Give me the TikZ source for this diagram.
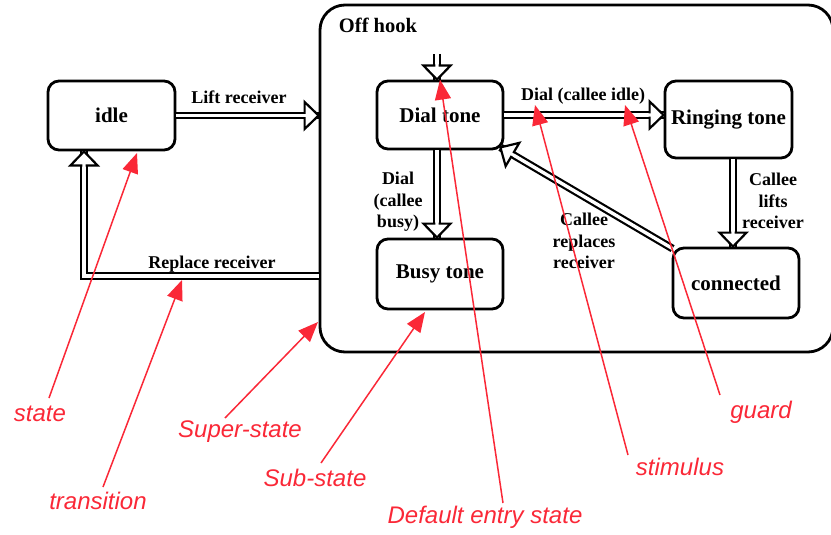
\documentclass[tikz,border=0pt]{standalone}
\usepackage{fontspec}
\setmainfont{Liberation Serif}
\newfontfamily\annfont{Liberation Sans}
\usetikzlibrary{decorations.markings,arrows.meta,calc}
\definecolor{annred}{RGB}{250,40,55}
\begin{document}
\begin{tikzpicture}[x=1pt,y=-1pt,
  st/.style={draw, line width=2.8pt, rounded corners=11pt, font=\fontsize{21}{23}\selectfont\bfseries, inner sep=0pt},
  lbl/.style={font=\fontsize{18}{21.5}\selectfont\bfseries, align=center, inner sep=0pt},
  dbl/.style={draw=white, line width=3.4pt,
    preaction={draw=black, line width=7.8pt},
    postaction={decorate, decoration={markings, mark=at position 1 with {
      \draw[draw=black, line width=2.2pt, fill=white, line join=miter, miter limit=10]
        (-14pt,1.7pt) -- (-14pt,13.5pt) -- (0pt,0pt) -- (-14pt,-13.5pt) -- (-14pt,-1.7pt);}}}},
  ann/.style={font=\fontsize{24}{26}\selectfont\annfont\itshape, text=annred, inner sep=0pt},
  pointer/.style={draw=annred, line width=1.5pt, -{Triangle[length=20pt,width=16pt]}}
]
\useasboundingbox (0,0) rectangle (831,535);
% super-state
\node[draw, line width=2.8pt, rounded corners=25pt, minimum width=513pt, minimum height=347pt, inner sep=0pt] (off) at (576.5,178.5) {};
\node[lbl, font=\fontsize{20.5}{22}\selectfont\bfseries] (offlbl) at (378,25) {Off hook};
% states
\node[st, minimum width=127pt, minimum height=69pt] (idle) at (111.5,115.5) {idle};
\node[st, minimum width=126pt, minimum height=68pt] (dial) at (440,115) {Dial tone};
\node[st, minimum width=127pt, minimum height=77pt] (ring) at (728.5,119.5) {Ringing tone};
\node[st, minimum width=126pt, minimum height=70pt] (busy) at (440,274) {Busy tone};
\node[st, minimum width=126pt, minimum height=70pt] (conn) at (736,283) {connected};
% helper coordinates
\coordinate (entry) at (437,54);
\coordinate (rr) at (84,276);
\coordinate (lx) at (733,0);
% transitions
\draw[dbl] (idle.east) -- (idle.east -| off.west);
\draw[dbl] (rr -| off.west) -- (rr) -- (rr |- idle.south);
\draw[dbl] (entry) -- (entry |- dial.north);
\draw[dbl] (dial.east) -- (dial.east -| ring.west);
\draw[dbl] ([xshift=-3pt]dial.south) -- ([xshift=-3pt]busy.north);
\draw[dbl] (ring.south -| lx) -- (conn.north -| lx);
\draw[dbl] ($(conn.north west)+(1,2)$) -- ($(dial.south east)+(-4,-3)$);
% transition labels
\node[lbl] (l1) at (239,97) {Lift receiver};
\node[lbl] (l2) at (212,264) {Replace receiver};
\node[lbl] (l3) at (583,96) {Dial (callee idle)};
\node[lbl] (l4) at (398,202) {Dial\\(callee\\busy)};
\node[lbl] (l5) at (773,201) {Callee\\lifts\\receiver};
\node[lbl] (l6) at (584,241) {Callee\\replaces\\receiver};
% annotations
\node[ann] (a1) at (40,414) {state};
\node[ann] (a2) at (98,501) {transition};
\node[ann] (a3) at (240,432) {Super-state};
\node[ann] (a4) at (315,478) {Sub-state};
\node[ann] (a5) at (485,517) {Default entry state};
\node[ann] (a6) at (680,467) {stimulus};
\node[ann] (a7) at (761,412) {guard};
\coordinate (s1) at (49,398);  \coordinate (p1) at (137,153);
\coordinate (s2) at (103,487); \coordinate (p2) at (182,280);
\coordinate (s3) at (225,418); \coordinate (p3) at (318,322);
\coordinate (s4) at (321,463); \coordinate (p4) at (425,312);
\coordinate (s5) at (503,503); \coordinate (p5) at (dial.north);
\coordinate (s6) at (628,455); \coordinate (p6) at (535,105);
\coordinate (s7) at (720,395); \coordinate (p7) at (625,105);
\foreach \i in {1,...,7} {\draw[pointer] (s\i) -- (p\i);}
\end{tikzpicture}
\end{document}
